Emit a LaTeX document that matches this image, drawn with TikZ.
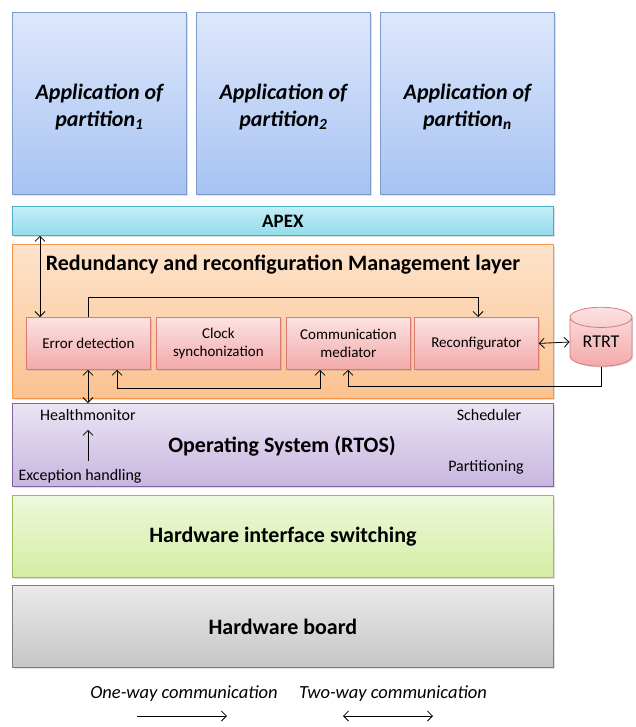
\documentclass[tikz,border=0pt]{standalone}
\usepackage{fontspec}
\setmainfont{Carlito}
\usetikzlibrary{arrows.meta,shapes.geometric,shadows}
\definecolor{appT}{HTML}{DDE7FB}\definecolor{appB}{HTML}{A7C3F3}\definecolor{appD}{HTML}{7F9CC8}
\definecolor{apxT}{HTML}{C4EEF8}\definecolor{apxB}{HTML}{93DBEC}\definecolor{apxD}{HTML}{4BACC6}
\definecolor{orT}{HTML}{FDE3CB}\definecolor{orB}{HTML}{FBC290}\definecolor{orD}{HTML}{F79646}
\definecolor{pkT}{HTML}{FCE2E2}\definecolor{pkB}{HTML}{F3A9A9}\definecolor{pkD}{HTML}{D9797A}
\definecolor{puT}{HTML}{EAE4F3}\definecolor{puB}{HTML}{C8B6E0}\definecolor{puD}{HTML}{8064A2}
\definecolor{grT}{HTML}{EEF8DC}\definecolor{grB}{HTML}{D4EDA2}\definecolor{grD}{HTML}{9BBB59}
\definecolor{gyT}{HTML}{EAEAEA}\definecolor{gyB}{HTML}{C6C6C6}\definecolor{gyD}{HTML}{7F7F7F}
\tikzset{
  layer/.style={draw, line width=0.8pt, anchor=north west, inner sep=0pt, drop shadow={shadow xshift=1.2pt, shadow yshift=-1.2pt, opacity=0.25}},
  appbox/.style={layer, draw=appD, top color=appT, bottom color=appB, minimum width=174pt, minimum height=182pt, align=center, font=\fontsize{22}{27}\selectfont\bfseries\itshape},
  inbox/.style={layer, draw=pkD, top color=pkT, bottom color=pkB, minimum width=124pt, minimum height=52pt, align=center, font=\fontsize{15}{18.5}\selectfont},
  lbl/.style={inner sep=1pt, font=\fontsize{16}{18}\selectfont},
  big/.style={font=\fontsize{22}{26}\selectfont\bfseries},
  one/.style={-{Straight Barb[length=5pt,width=10pt]}, line width=0.8pt},
  two/.style={{Straight Barb[length=5pt,width=10pt]}-{Straight Barb[length=5pt,width=10pt]}, line width=0.8pt},
}
\begin{document}
\begin{tikzpicture}[x=1pt,y=-1pt]
\useasboundingbox (0,0) rectangle (635,727);
% applications
\node[appbox] (a1) at (12,12) {\rule{0pt}{23pt}Application of\\partition\textsubscript{1}};
\node[appbox] (a2) at (196,12) {\rule{0pt}{23pt}Application of\\partition\textsubscript{2}};
\node[appbox] (a3) at (380,12) {\rule{0pt}{23pt}Application of\\partition\textsubscript{n}};
% APEX
\node[layer, draw=apxD, top color=apxT, bottom color=apxB, minimum width=541pt, minimum height=29pt, font=\fontsize{19}{21}\selectfont\bfseries] (apex) at (12,206) {APEX};
% management layer
\node[layer, draw=orD, top color=orT, bottom color=orB, minimum width=541pt, minimum height=154pt] (mgmt) at (12,244) {};
\node[big] (mt) at (283,265) {Redundancy and reconfiguration Management layer};
\node[inbox] (ed) at (26,317) {Error detection};
\node[inbox] (cs) at (156,317) {Clock\\synchonization};
\node[inbox] (cm) at (286,317) {Communication\\mediator};
\node[inbox] (rc) at (414,317) {Reconfigurator};
\node[cylinder, shape border rotate=90, aspect=0.55, draw=pkD, line width=0.8pt, top color=pkT, bottom color=pkB, minimum width=62pt, minimum height=59pt, inner sep=0pt, font=\fontsize{18}{20}\selectfont, drop shadow={shadow xshift=1.2pt, shadow yshift=-1.2pt, opacity=0.25}] (rtrt) at (601,342) {RTRT};
% OS
\node[layer, draw=puD, top color=puT, bottom color=puB, minimum width=541pt, minimum height=83pt] (os) at (12,403) {};
\node[big] (ost) at (282,446) {Operating System (RTOS)};
\node[lbl] (hm) at (88,415) {Healthmonitor};
\node[lbl] (eh) at (80,476) {Exception handling};
\node[lbl] (sc) at (489,415) {Scheduler};
\node[lbl] (pt) at (486,467) {Partitioning};
% hardware
\node[layer, draw=grD, top color=grT, bottom color=grB, minimum width=541pt, minimum height=82pt, big] (hwi) at (12,495) {Hardware interface switching};
\node[layer, draw=gyD, top color=gyT, bottom color=gyB, minimum width=541pt, minimum height=82pt, big] (hwb) at (12,585) {Hardware board};
% connectors
\draw[two] (apex.south -| 40,0) -- (ed.north -| 40,0);
\draw[one] (ed.north -| 88,0) -- (88,297) -| (rc.north -| 478,0);
\draw[two] (rc.east) -- (rtrt.west);
\draw[two] (ed.south -| 88,0) -- (os.north -| 88,0);
\draw[two] (ed.south -| 117,0) -- (117,388) -| (cm.south -| 320,0);
\draw[one] (rtrt.south) -- (601,386) -| (cm.south -| 348,0);
\draw[one, shorten <=7pt, shorten >=8pt] (eh.north -| 88,0) -- (hm.south -| 88,0);
% legend
\node[font=\fontsize{18.5}{21}\selectfont\itshape] (l1) at (184,694) {One-way communication};
\node[font=\fontsize{18.5}{21}\selectfont\itshape] (l2) at (393,694) {Two-way communication};
\coordinate (o1) at (137,716); \coordinate (o2) at (227,716);
\coordinate (t1) at (343,716); \coordinate (t2) at (433,716);
\draw[one] (o1) -- (o2);
\draw[two] (t1) -- (t2);
\end{tikzpicture}
\end{document}
